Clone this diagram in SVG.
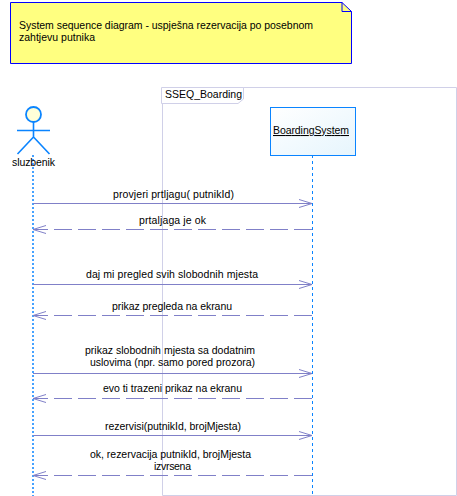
<svg xmlns="http://www.w3.org/2000/svg" width="457" height="496" viewBox="0 0 457 496">
<style>
text{font-family:"Liberation Sans",Arial,sans-serif;font-size:10.5px;fill:#000}
.m{text-anchor:middle}
.life{stroke:#0a84ff;stroke-width:1;stroke-dasharray:3 3;fill:none}
.msg{stroke:#8080c8;stroke-width:1;fill:none}
.ret{stroke-dasharray:18 6}
.frame{stroke:#d0d0e8;stroke-width:1;fill:none}
.head{stroke:#8080c8;stroke-width:1;fill:none}
.act{stroke:#0a84ff;stroke-width:1.6;fill:none}
</style>
<defs>
<linearGradient id="g" x1="0" y1="0" x2="1" y2="1"><stop offset="0" stop-color="#ffffff"/><stop offset="1" stop-color="#e6f5fd"/></linearGradient>
<marker id="open" viewBox="0 0 14 10" refX="13" refY="5" markerWidth="14" markerHeight="10" markerUnits="userSpaceOnUse" orient="auto-start-reverse"><path class="head" d="M0 1L13 5L0 9"/></marker>
</defs>
<g id="frame">
<path class="frame" d="M162.500 87.500H456.500V495.500H162.500Z"/>
<path d="M161.500 87.500H243.500V99L238 103.500H161.500Z" fill="#fff" stroke="#d0d0e8"/>
<text x="165" y="98" textLength="77" lengthAdjust="spacing">SSEQ_Boarding</text>
</g>
<g id="note">
<path d="M10.500 2.500H342L351.500 11.500V63.500H10.500Z" fill="#ffff80" stroke="#0000ff"/>
<path d="M342 2.500V11.500H351.500" fill="none" stroke="#0000ff"/>
<text x="19" y="29" textLength="294" lengthAdjust="spacing">System sequence diagram - uspješna rezervacija po posebnom</text>
<text x="19" y="41" textLength="76" lengthAdjust="spacing">zahtjevu putnika</text>
</g>
<g id="connectors">
<path class="life" d="M33 155V496" style="stroke-width:1.500;stroke-dasharray:2 2"/>
<path class="life" d="M312.500 155V496"/>
<path class="msg" marker-end="url(#open)" d="M33 203.500H312"/>
<path class="msg ret" marker-end="url(#open)" d="M312 229.500H33"/>
<path class="msg" marker-end="url(#open)" d="M33 284.500H312"/>
<path class="msg ret" marker-end="url(#open)" d="M312 315.500H33"/>
<path class="msg" marker-end="url(#open)" d="M33 373.500H312"/>
<path class="msg ret" marker-end="url(#open)" d="M312 398.500H33"/>
<path class="msg" marker-end="url(#open)" d="M33 435.500H312"/>
<path class="msg ret" marker-end="url(#open)" d="M312 475.500H33"/>
</g>
<g id="sluzbenik">
<circle cx="33.500" cy="114.500" r="7.500" fill="#ffffd8" stroke="#0a84ff" stroke-width="1.800"/>
<path class="act" d="M33.500 122V137M17 130.500H50M33.500 137L17.500 154M33.500 137L49.500 154"/>
<text class="m" x="33.500" y="166" textLength="43" lengthAdjust="spacing">sluzbenik</text>
</g>
<g id="boardingsystem">
<rect x="270.500" y="107.500" width="85" height="48" fill="url(#g)" stroke="#0a84ff"/>
<text x="273" y="134" textLength="76" lengthAdjust="spacing" text-decoration="underline">BoardingSystem</text>
</g>
<g id="labels">
<text x="113" y="198" textLength="121" lengthAdjust="spacing">provjeri prtljagu( putnikId)</text>
<text x="139" y="224" textLength="67" lengthAdjust="spacing">prtaljaga je ok</text>
<text x="86" y="278" textLength="172" lengthAdjust="spacing">daj mi pregled svih slobodnih mjesta</text>
<text x="112" y="310" textLength="120" lengthAdjust="spacing">prikaz pregleda na ekranu</text>
<text x="85" y="354" textLength="170" lengthAdjust="spacing">prikaz slobodnih mjesta sa dodatnim</text>
<text x="90" y="366" textLength="165" lengthAdjust="spacing">uslovima (npr. samo pored prozora)</text>
<text x="103" y="392" textLength="139" lengthAdjust="spacing">evo ti trazeni prikaz na ekranu</text>
<text x="105" y="430" textLength="136" lengthAdjust="spacing">rezervisi(putnikId, brojMjesta)</text>
<text x="90" y="458" textLength="161" lengthAdjust="spacing">ok, rezervacija putnikId, brojMjesta</text>
<text x="154" y="470" textLength="37" lengthAdjust="spacing">izvrsena</text>
</g>
</svg>
